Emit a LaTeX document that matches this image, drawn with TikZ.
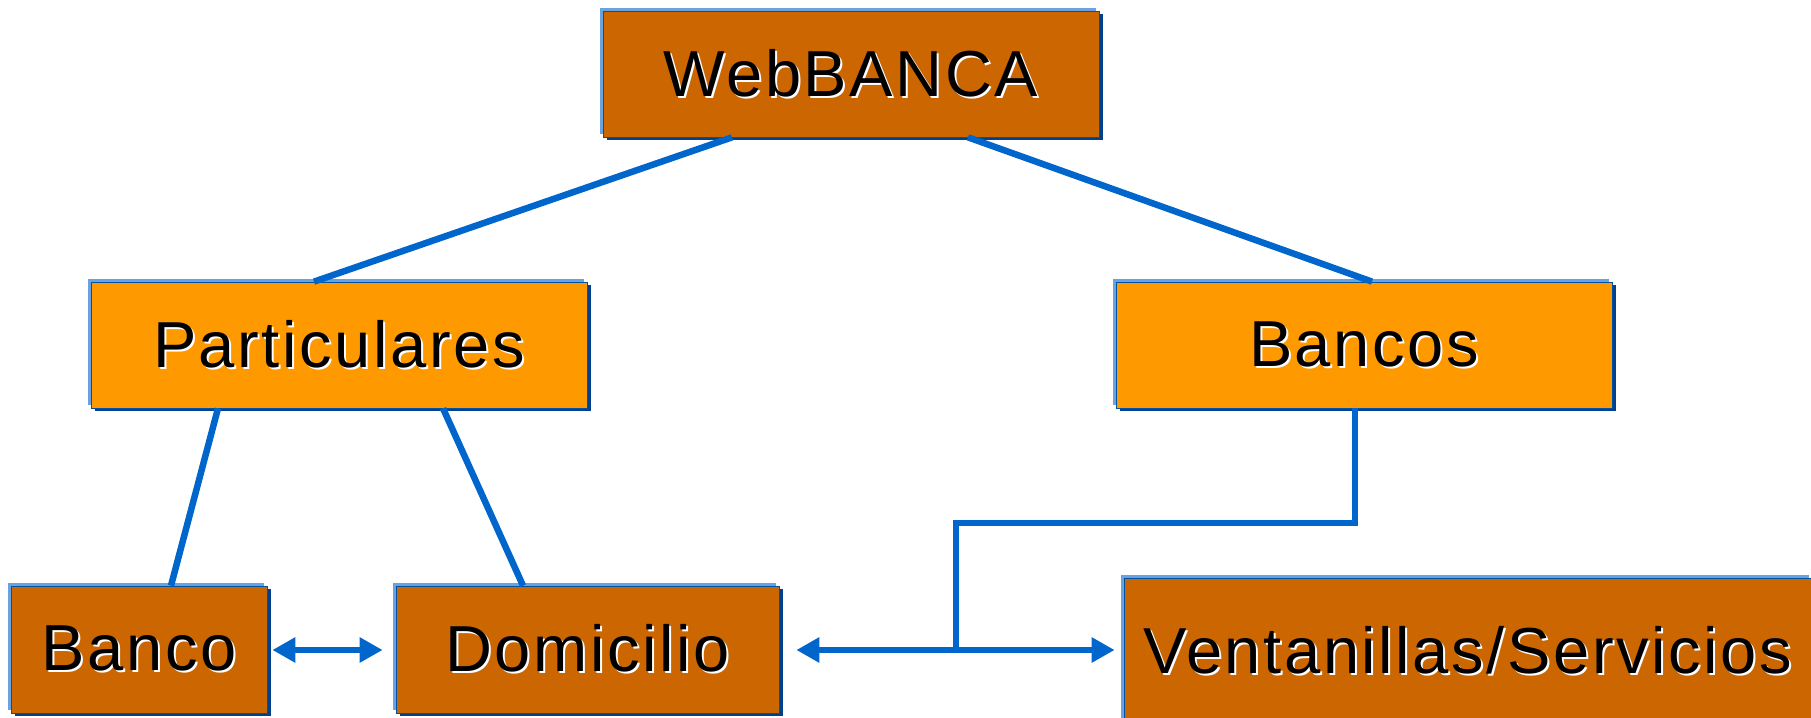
\documentclass[tikz,border=0pt]{standalone}
\usepackage{fontspec}
\setmainfont[LetterSpace=4]{Liberation Sans}
\usepackage{tikz}
\usetikzlibrary{arrows.meta,shadows}
\definecolor{darkorange}{HTML}{CC6600}
\definecolor{lightorange}{HTML}{FF9900}
\definecolor{edgeblue}{HTML}{6AA2E0}
\definecolor{shadeblue}{HTML}{00408C}
\definecolor{linkblue}{HTML}{0066CC}
\newcommand{\embossed}[1]{\makebox[0pt][l]{\hspace{0.04cm}\raisebox{-0.04cm}{\color{white}#1}}#1}
\tikzset{
  box/.style={rectangle,draw=linkblue!80!black,line width=0.4pt,inner sep=0pt,
    font=\fontsize{37}{40}\selectfont,
    general shadow={fill=shadeblue,shadow xshift=0.07cm,shadow yshift=-0.07cm},
    general shadow={fill=edgeblue,shadow xshift=-0.06cm,shadow yshift=0.06cm}},
  topbox/.style={box,fill=lightorange,minimum width=9.92cm,minimum height=2.52cm},
  link/.style={draw=linkblue,line width=0.13cm},
  tip/.style={{Triangle[length=0.46cm,width=0.48cm]}-{Triangle[length=0.46cm,width=0.48cm]}}
}
\begin{document}
\begin{tikzpicture}
  \useasboundingbox (0,0) rectangle (36.22,-14.36);
  \node[topbox,fill=darkorange](web)at(17.02,-1.48){\embossed{WebBANCA}};
  \node[topbox](part)at(6.78,-6.9){\embossed{Particulares}};
  \node[topbox](bancos)at(27.28,-6.9){\embossed{Bancos}};
  \node[box,fill=darkorange,minimum width=5.12cm,minimum height=2.54cm](banco)at(2.78,-12.99){\embossed{Banco}};
  \node[box,fill=darkorange,minimum width=7.66cm,minimum height=2.54cm](domi)at(11.75,-12.99){\embossed{Domicilio}};
  \node[box,fill=darkorange,minimum width=13.76cm,minimum height=2.92cm](vent)at(29.36,-13.02){\embossed{Ventanillas/Servicios}};
  \coordinate (turn) at (19.12,-10.46);
  \coordinate (junc) at (19.12,-13.0);
  \draw[link]([xshift=-2.38cm]web.south)--([xshift=-0.5cm]part.north);
  \draw[link]([xshift=2.34cm]web.south)--([xshift=0.16cm]bancos.north);
  \draw[link]([xshift=-2.42cm]part.south)--([xshift=0.64cm]banco.north);
  \draw[link]([xshift=2.08cm]part.south)--([xshift=-1.29cm]domi.north);
  \draw[link]([xshift=-0.18cm]bancos.south)|-(turn)--(junc);
  \draw[link,tip,shorten <=0.34cm,shorten >=0.18cm](domi.east|-junc)--(vent.west|-junc);
  \draw[link,tip,shorten <=0.1cm,shorten >=0.26cm](banco.east|-junc)--(domi.west|-junc);
\end{tikzpicture}
\end{document}
